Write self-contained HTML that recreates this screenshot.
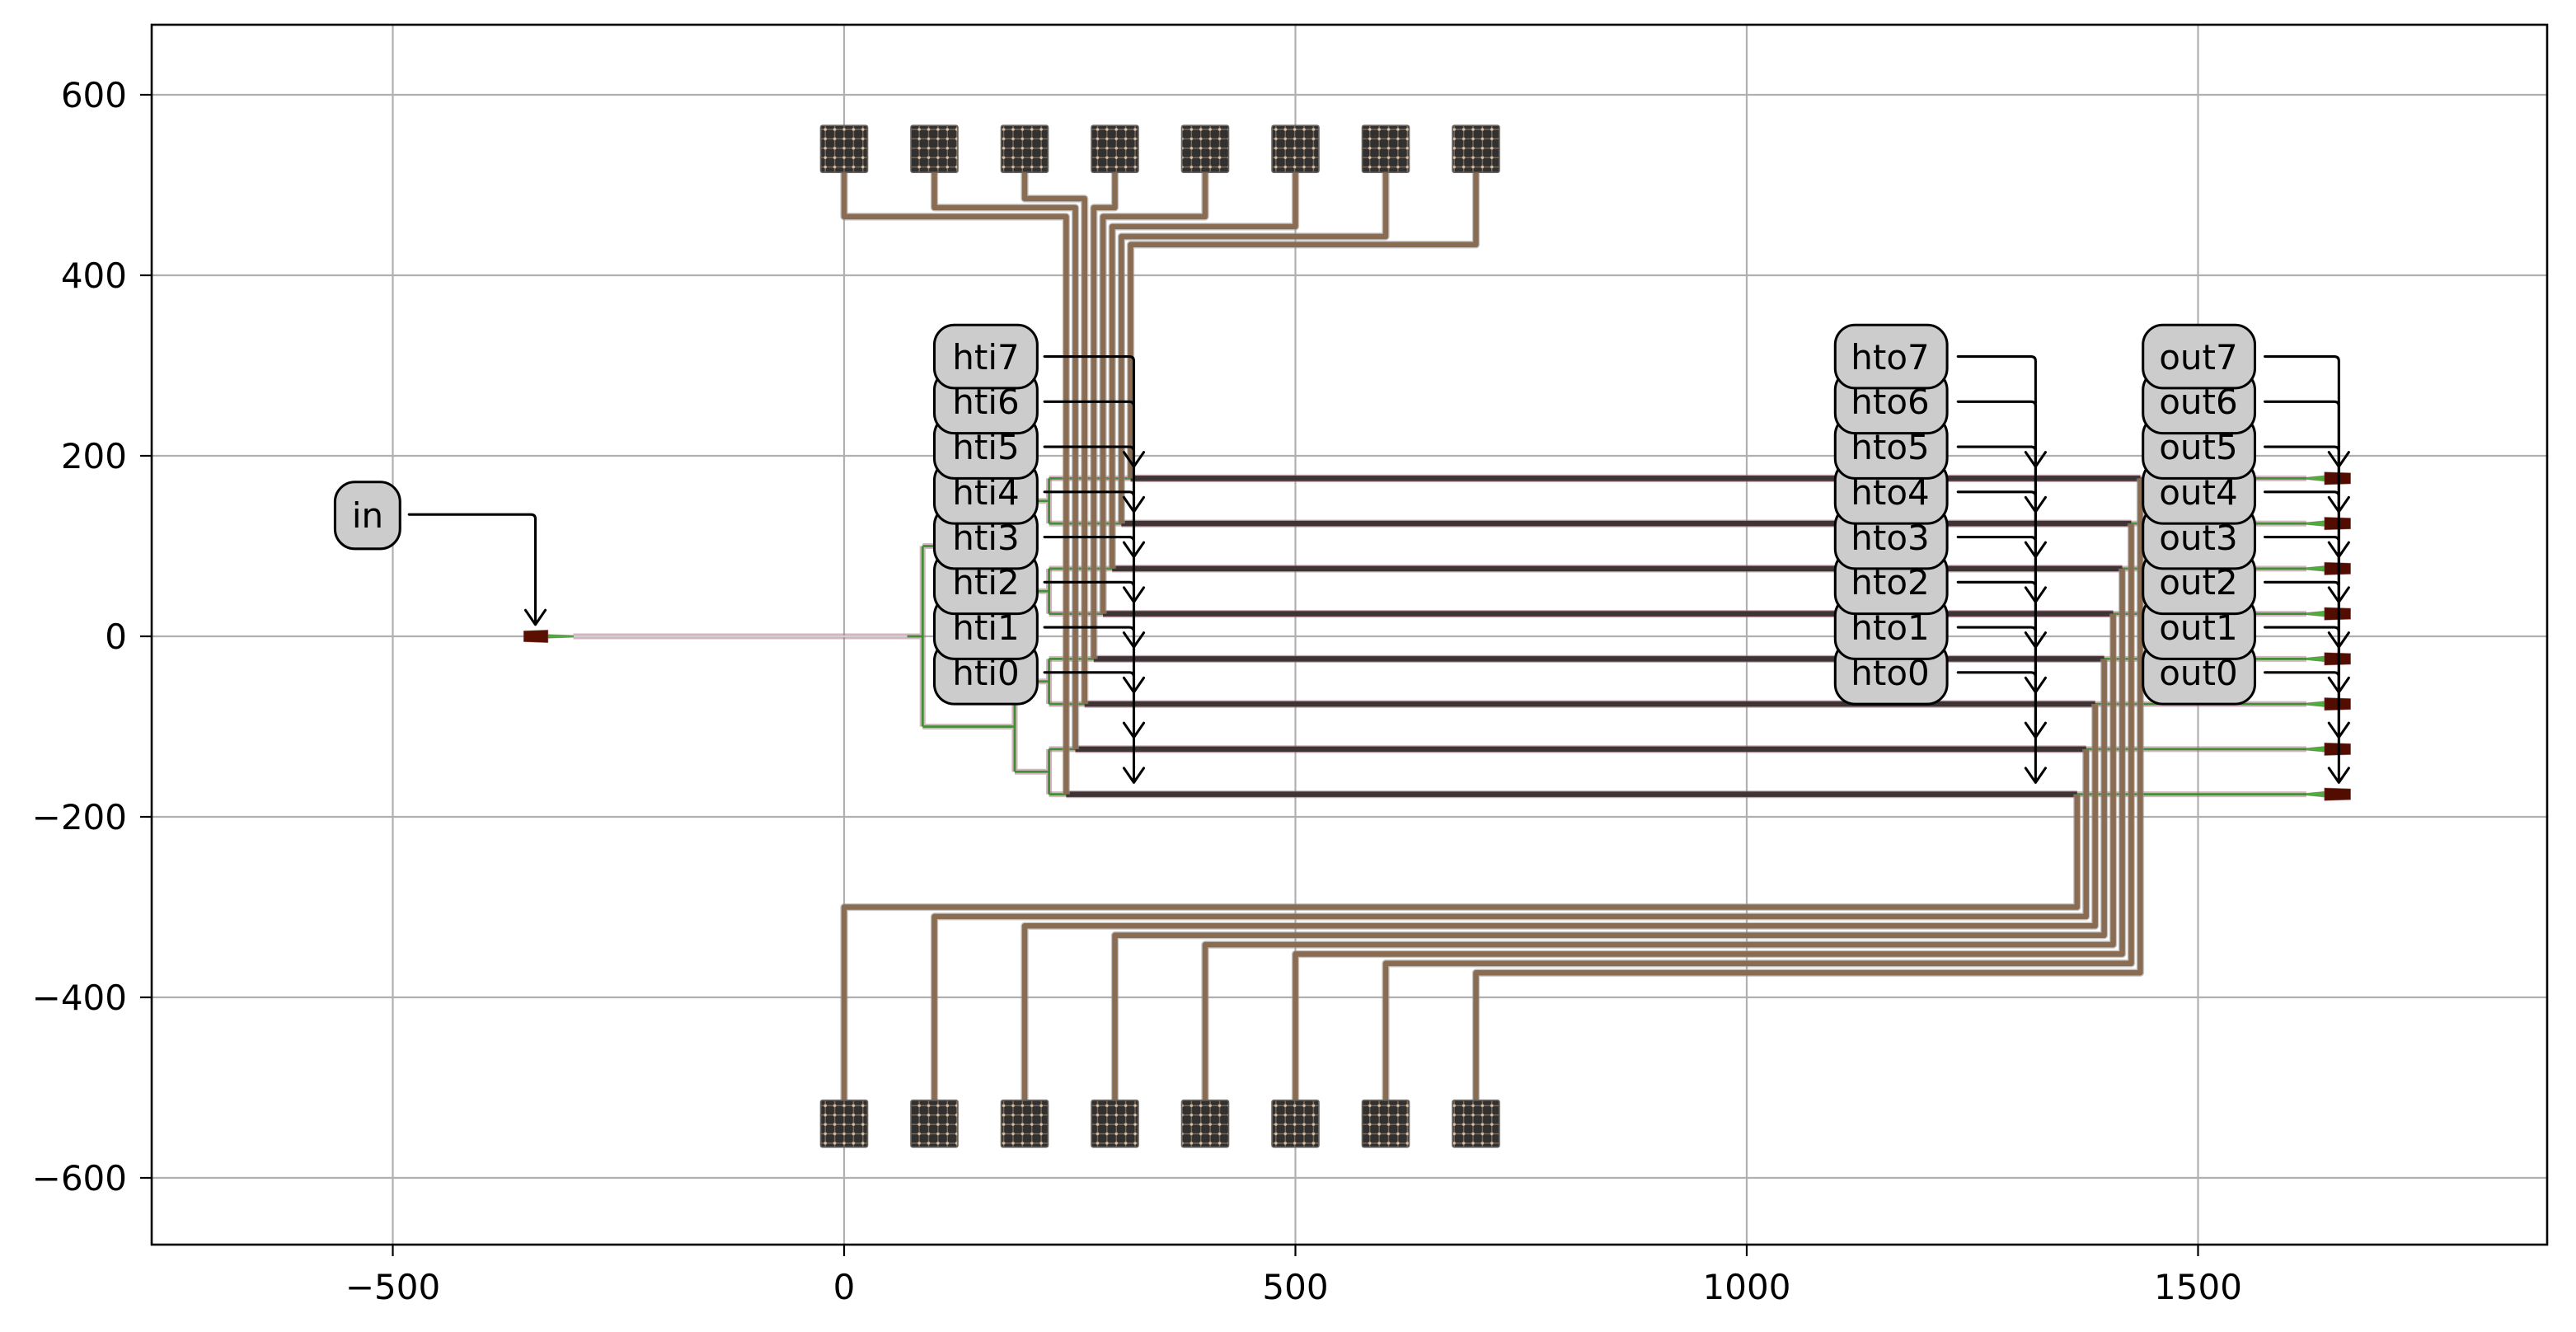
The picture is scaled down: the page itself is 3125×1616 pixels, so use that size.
<!DOCTYPE html>
<html><head><meta charset="utf-8"><style>
html,body{margin:0;padding:0;background:#fff;}
svg{display:block;}
text{font-family:"DejaVu Sans","Liberation Sans",sans-serif;font-size:42px;fill:#000;}
</style></head><body>
<svg width="3125" height="1616" viewBox="0 0 3125 1616" xmlns="http://www.w3.org/2000/svg">
<defs>
<pattern id="padp" patternUnits="userSpaceOnUse" width="10.4" height="10.4" x="-26" y="-26">
<rect width="10.4" height="10.4" fill="#333130"/>
<rect x="4.6" y="0" width="1.2" height="10.4" fill="#7d6f63"/>
<rect x="0" y="4.6" width="10.4" height="1.2" fill="#7d6f63"/>
<circle cx="5.2" cy="5.2" r="1.6" fill="#d9bfa3"/>
</pattern>
</defs>
<rect width="3125" height="1616" fill="#fff"/>
<g stroke="#b0b0b0" stroke-width="2.2">
<line x1="476.5" y1="30" x2="476.5" y2="1510"/>
<line x1="1024" y1="30" x2="1024" y2="1510"/>
<line x1="1571.5" y1="30" x2="1571.5" y2="1510"/>
<line x1="2119" y1="30" x2="2119" y2="1510"/>
<line x1="2666.5" y1="30" x2="2666.5" y2="1510"/>
<line x1="184" y1="115" x2="3090" y2="115"/>
<line x1="184" y1="334" x2="3090" y2="334"/>
<line x1="184" y1="553" x2="3090" y2="553"/>
<line x1="184" y1="772" x2="3090" y2="772"/>
<line x1="184" y1="991" x2="3090" y2="991"/>
<line x1="184" y1="1210" x2="3090" y2="1210"/>
<line x1="184" y1="1429" x2="3090" y2="1429"/>
</g>

<g transform="translate(1024,772) scale(1.095,-1.095)" fill="none" stroke-linejoin="round">
<g stroke="rgba(170,110,130,0.5)" stroke-width="6.5">
<path d="M-300 0 H87 M87 100 V-100 M87 100 H189 M87 -100 H189 M189 150 V50 M189 -50 V-150 M189 150 H227 M189 50 H227 M189 -50 H227 M189 -150 H227 M227 175 V125 M227 75 V25 M227 -25 V-75 M227 -125 V-175"/>
<path d="M227 175 H1620 M227 125 H1620 M227 75 H1620 M227 25 H1620 M227 -25 H1620 M227 -75 H1620 M227 -125 H1620 M227 -175 H1620"/>
</g>
<path d="M-300 0 H70" stroke="#cfcfcf" stroke-width="2"/>
<g stroke="#3f8f35" stroke-width="2.6">
<path d="M70 0 H87 M87 100 V-100 M87 100 H189 M87 -100 H189 M189 150 V50 M189 -50 V-150 M189 150 H227 M189 50 H227 M189 -50 H227 M189 -150 H227 M227 175 V125 M227 75 V25 M227 -25 V-75 M227 -125 V-175"/>
<path d="M227 175 H1620 M227 125 H1620 M227 75 H1620 M227 25 H1620 M227 -25 H1620 M227 -75 H1620 M227 -125 H1620 M227 -175 H1620"/>
</g>
<g stroke="rgba(160,110,130,0.55)" stroke-width="8.5">
<path d="M246 -175 H1366 M256.2 -125 H1376 M266.4 -75 H1386 M276.6 -25 H1396 M286.8 25 H1406 M297 75 H1416 M307.2 125 H1426 M317.4 175 H1436"/>
</g>
<g stroke="#3e3434" stroke-width="6">
<path d="M246 -175 H1366 M256.2 -125 H1376 M266.4 -75 H1386 M276.6 -25 H1396 M286.8 25 H1406 M297 75 H1416 M307.2 125 H1426 M317.4 175 H1436"/>
</g>
<g stroke="rgba(150,150,150,0.55)" stroke-width="8.5">
<path d="M0 515 V465 H246 V-175"/><path d="M100 515 V475 H256.2 V-125"/><path d="M200 515 V485 H266.4 V-75"/><path d="M300 515 V475 H276.6 V-25"/><path d="M400 515 V465 H286.8 V25"/><path d="M500 515 V454 H297 V75"/><path d="M600 515 V443 H307.2 V125"/><path d="M700 515 V434 H317.4 V175"/>
<path d="M0 -515 V-300 H1366 V-175"/><path d="M100 -515 V-310.4 H1376 V-125"/><path d="M200 -515 V-320.8 H1386 V-75"/><path d="M300 -515 V-331.2 H1396 V-25"/><path d="M400 -515 V-341.6 H1406 V25"/><path d="M500 -515 V-352 H1416 V75"/><path d="M600 -515 V-362.4 H1426 V125"/><path d="M700 -515 V-372.8 H1436 V175"/>
</g>
<g stroke="#8a6c52" stroke-width="6">
<path d="M0 515 V465 H246 V-175"/><path d="M100 515 V475 H256.2 V-125"/><path d="M200 515 V485 H266.4 V-75"/><path d="M300 515 V475 H276.6 V-25"/><path d="M400 515 V465 H286.8 V25"/><path d="M500 515 V454 H297 V75"/><path d="M600 515 V443 H307.2 V125"/><path d="M700 515 V434 H317.4 V175"/>
<path d="M0 -515 V-300 H1366 V-175"/><path d="M100 -515 V-310.4 H1376 V-125"/><path d="M200 -515 V-320.8 H1386 V-75"/><path d="M300 -515 V-331.2 H1396 V-25"/><path d="M400 -515 V-341.6 H1406 V25"/><path d="M500 -515 V-352 H1416 V75"/><path d="M600 -515 V-362.4 H1426 V125"/><path d="M700 -515 V-372.8 H1436 V175"/>
</g>
<g stroke="#6b6560" stroke-width="1.5" fill="url(#padp)">
<rect x="-26" y="514" width="52" height="52" rx="2"/><rect x="74" y="514" width="52" height="52" rx="2"/><rect x="174" y="514" width="52" height="52" rx="2"/><rect x="274" y="514" width="52" height="52" rx="2"/><rect x="374" y="514" width="52" height="52" rx="2"/><rect x="474" y="514" width="52" height="52" rx="2"/><rect x="574" y="514" width="52" height="52" rx="2"/><rect x="674" y="514" width="52" height="52" rx="2"/>
<rect x="-26" y="-566" width="52" height="52" rx="2"/><rect x="74" y="-566" width="52" height="52" rx="2"/><rect x="174" y="-566" width="52" height="52" rx="2"/><rect x="274" y="-566" width="52" height="52" rx="2"/><rect x="374" y="-566" width="52" height="52" rx="2"/><rect x="474" y="-566" width="52" height="52" rx="2"/><rect x="574" y="-566" width="52" height="52" rx="2"/><rect x="674" y="-566" width="52" height="52" rx="2"/>
</g>
<g stroke="rgba(120,80,90,0.5)" stroke-width="0.8">
<polygon points="-328,2 -300,1 -300,-1 -328,-2" fill="#4caf3a"/>
<polygon points="-355,6 -328,7 -328,-7 -355,-6" fill="#5a0f00"/>
</g>
<g stroke="rgba(120,80,90,0.5)" stroke-width="0.8">
<polygon points="1619,176 1640,178 1640,172 1619,174" fill="#4caf3a"/><polygon points="1640,182 1669,181 1669,169 1640,168" fill="#520c00"/>
<polygon points="1619,126 1640,128 1640,122 1619,124" fill="#4caf3a"/><polygon points="1640,132 1669,131 1669,119 1640,118" fill="#520c00"/>
<polygon points="1619,76 1640,78 1640,72 1619,74" fill="#4caf3a"/><polygon points="1640,82 1669,81 1669,69 1640,68" fill="#520c00"/>
<polygon points="1619,26 1640,28 1640,22 1619,24" fill="#4caf3a"/><polygon points="1640,32 1669,31 1669,19 1640,18" fill="#520c00"/>
<polygon points="1619,-24 1640,-22 1640,-28 1619,-26" fill="#4caf3a"/><polygon points="1640,-18 1669,-19 1669,-31 1640,-32" fill="#520c00"/>
<polygon points="1619,-74 1640,-72 1640,-78 1619,-76" fill="#4caf3a"/><polygon points="1640,-68 1669,-69 1669,-81 1640,-82" fill="#520c00"/>
<polygon points="1619,-124 1640,-122 1640,-128 1619,-126" fill="#4caf3a"/><polygon points="1640,-118 1669,-119 1669,-131 1640,-132" fill="#520c00"/>
<polygon points="1619,-174 1640,-172 1640,-178 1619,-176" fill="#4caf3a"/><polygon points="1640,-168 1669,-169 1669,-181 1640,-182" fill="#520c00"/>
</g>
<g fill="#cccccc" stroke="#000" stroke-width="2.8">
<rect x="-564" y="97" width="72" height="74" rx="22"/>
<rect x="100" y="-75" width="114" height="70" rx="22"/><rect x="100" y="-25" width="114" height="70" rx="22"/><rect x="100" y="25" width="114" height="70" rx="22"/><rect x="100" y="75" width="114" height="70" rx="22"/><rect x="100" y="125" width="114" height="70" rx="22"/><rect x="100" y="175" width="114" height="70" rx="22"/><rect x="100" y="225" width="114" height="70" rx="22"/><rect x="100" y="275" width="114" height="70" rx="22"/>
<rect x="1098" y="-75" width="124" height="70" rx="22"/><rect x="1098" y="-25" width="124" height="70" rx="22"/><rect x="1098" y="25" width="124" height="70" rx="22"/><rect x="1098" y="75" width="124" height="70" rx="22"/><rect x="1098" y="125" width="124" height="70" rx="22"/><rect x="1098" y="175" width="124" height="70" rx="22"/><rect x="1098" y="225" width="124" height="70" rx="22"/><rect x="1098" y="275" width="124" height="70" rx="22"/>
<rect x="1439" y="-75" width="124" height="70" rx="22"/><rect x="1439" y="-25" width="124" height="70" rx="22"/><rect x="1439" y="25" width="124" height="70" rx="22"/><rect x="1439" y="75" width="124" height="70" rx="22"/><rect x="1439" y="125" width="124" height="70" rx="22"/><rect x="1439" y="175" width="124" height="70" rx="22"/><rect x="1439" y="225" width="124" height="70" rx="22"/><rect x="1439" y="275" width="124" height="70" rx="22"/>
</g>
<g stroke="#000" stroke-width="2.8" stroke-linecap="round">
<path d="M-482 135 H-347 Q-342 135 -342 130 V13 M-353 29 L-342 13 L-331 29"/>
<path d="M222 -40 H316 Q321 -40 321 -45 V-162 M310 -146 L321 -162 L332 -146"/>
<path d="M222 10 H316 Q321 10 321 5 V-112 M310 -96 L321 -112 L332 -96"/>
<path d="M222 60 H316 Q321 60 321 55 V-62 M310 -46 L321 -62 L332 -46"/>
<path d="M222 110 H316 Q321 110 321 105 V-12 M310 4 L321 -12 L332 4"/>
<path d="M222 160 H316 Q321 160 321 155 V38 M310 54 L321 38 L332 54"/>
<path d="M222 210 H316 Q321 210 321 205 V88 M310 104 L321 88 L332 104"/>
<path d="M222 260 H316 Q321 260 321 255 V138 M310 154 L321 138 L332 154"/>
<path d="M222 310 H316 Q321 310 321 305 V188 M310 204 L321 188 L332 204"/>
<path d="M1234 -40 H1315 Q1320 -40 1320 -45 V-162 M1309 -146 L1320 -162 L1331 -146"/>
<path d="M1234 10 H1315 Q1320 10 1320 5 V-112 M1309 -96 L1320 -112 L1331 -96"/>
<path d="M1234 60 H1315 Q1320 60 1320 55 V-62 M1309 -46 L1320 -62 L1331 -46"/>
<path d="M1234 110 H1315 Q1320 110 1320 105 V-12 M1309 4 L1320 -12 L1331 4"/>
<path d="M1234 160 H1315 Q1320 160 1320 155 V38 M1309 54 L1320 38 L1331 54"/>
<path d="M1234 210 H1315 Q1320 210 1320 205 V88 M1309 104 L1320 88 L1331 104"/>
<path d="M1234 260 H1315 Q1320 260 1320 255 V138 M1309 154 L1320 138 L1331 154"/>
<path d="M1234 310 H1315 Q1320 310 1320 305 V188 M1309 204 L1320 188 L1331 204"/>
<path d="M1574 -40 H1651 Q1656 -40 1656 -45 V-162 M1645 -146 L1656 -162 L1667 -146"/>
<path d="M1574 10 H1651 Q1656 10 1656 5 V-112 M1645 -96 L1656 -112 L1667 -96"/>
<path d="M1574 60 H1651 Q1656 60 1656 55 V-62 M1645 -46 L1656 -62 L1667 -46"/>
<path d="M1574 110 H1651 Q1656 110 1656 105 V-12 M1645 4 L1656 -12 L1667 4"/>
<path d="M1574 160 H1651 Q1656 160 1656 155 V38 M1645 54 L1656 38 L1667 54"/>
<path d="M1574 210 H1651 Q1656 210 1656 205 V88 M1645 104 L1656 88 L1667 104"/>
<path d="M1574 260 H1651 Q1656 260 1656 255 V138 M1645 154 L1656 138 L1667 154"/>
<path d="M1574 310 H1651 Q1656 310 1656 305 V188 M1645 204 L1656 188 L1667 204"/>
</g>
</g>

<g text-anchor="middle">
<text x="446" y="640">in</text>
<text x="1196" y="831">hti0</text><text x="1196" y="776">hti1</text><text x="1196" y="721">hti2</text><text x="1196" y="667">hti3</text><text x="1196" y="612">hti4</text><text x="1196" y="557">hti5</text><text x="1196" y="502">hti6</text><text x="1196" y="448">hti7</text>
<text x="2293" y="831">hto0</text><text x="2293" y="776">hto1</text><text x="2293" y="721">hto2</text><text x="2293" y="667">hto3</text><text x="2293" y="612">hto4</text><text x="2293" y="557">hto5</text><text x="2293" y="502">hto6</text><text x="2293" y="448">hto7</text>
<text x="2667" y="831">out0</text><text x="2667" y="776">out1</text><text x="2667" y="721">out2</text><text x="2667" y="667">out3</text><text x="2667" y="612">out4</text><text x="2667" y="557">out5</text><text x="2667" y="502">out6</text><text x="2667" y="448">out7</text>
</g>

<rect x="184" y="30" width="2906" height="1480" fill="none" stroke="#000" stroke-width="2.6"/>
<g stroke="#000" stroke-width="2.2">
<line x1="476.5" y1="1510" x2="476.5" y2="1524"/><line x1="1024" y1="1510" x2="1024" y2="1524"/><line x1="1571.5" y1="1510" x2="1571.5" y2="1524"/><line x1="2119" y1="1510" x2="2119" y2="1524"/><line x1="2666.5" y1="1510" x2="2666.5" y2="1524"/>
<line x1="170" y1="115" x2="184" y2="115"/><line x1="170" y1="334" x2="184" y2="334"/><line x1="170" y1="553" x2="184" y2="553"/><line x1="170" y1="772" x2="184" y2="772"/><line x1="170" y1="991" x2="184" y2="991"/><line x1="170" y1="1210" x2="184" y2="1210"/><line x1="170" y1="1429" x2="184" y2="1429"/>
</g>
<g text-anchor="middle">
<text x="476.5" y="1576">−500</text><text x="1024" y="1576">0</text><text x="1571.5" y="1576">500</text><text x="2119" y="1576">1000</text><text x="2666.5" y="1576">1500</text>
</g>
<g text-anchor="end">
<text x="154" y="130">600</text><text x="154" y="349">400</text><text x="154" y="568">200</text><text x="154" y="787">0</text><text x="154" y="1006">−200</text><text x="154" y="1225">−400</text><text x="154" y="1444">−600</text>
</g>
</svg>
</body></html>
